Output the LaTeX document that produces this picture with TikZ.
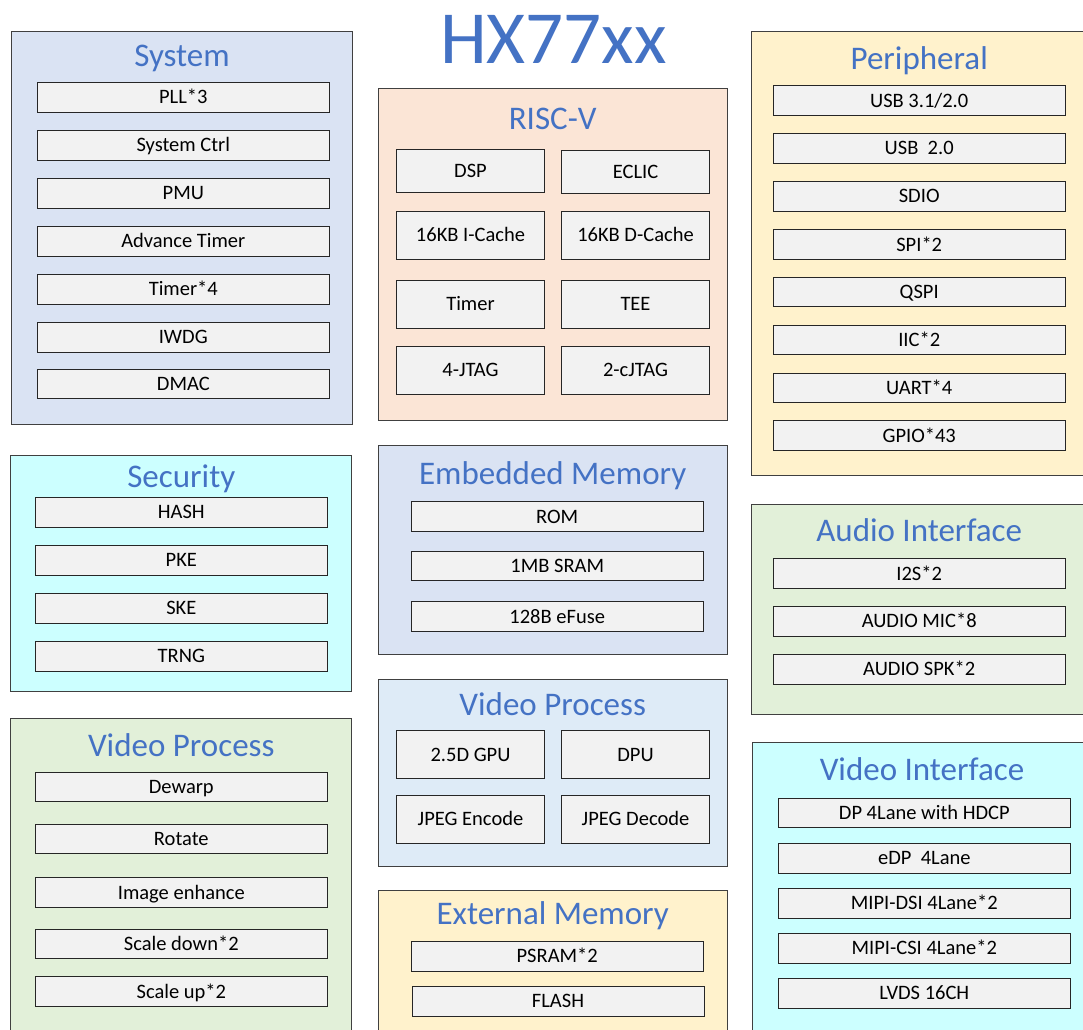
\documentclass[tikz,border=0pt]{standalone}
\usepackage{fontspec}
\setmainfont{Carlito}
\definecolor{titleblue}{HTML}{4472C4}
\definecolor{sysblue}{HTML}{DAE3F3}
\definecolor{seccyan}{HTML}{CCFFFF}
\definecolor{vidgreen}{HTML}{E2F0D9}
\definecolor{riscpeach}{HTML}{FBE5D6}
\definecolor{vidmblue}{HTML}{DEEBF7}
\definecolor{memyellow}{HTML}{FFF2CC}
\definecolor{itemgray}{HTML}{F2F2F2}
\tikzset{
  group/.style={draw=black!75, line width=1pt, inner sep=0pt, anchor=center},
  gtitle/.style={text=titleblue, font=\fontsize{33}{33}\selectfont, anchor=base, inner sep=0pt},
  item/.style={draw=black!85, line width=1pt, fill=itemgray, inner sep=0pt, anchor=center,
    font=\fontsize{20.5}{20.5}\selectfont, text height=13.2pt, text depth=0pt},
  wide/.style={item, minimum width=292pt, minimum height=29.7pt},
  cell/.style={item, minimum width=147.6pt, minimum height=48pt},
}
\begin{document}
\begin{tikzpicture}[x=1pt,y=-1pt]
\useasboundingbox (0,0) rectangle (1083,1029);
\clip (0,0) rectangle (1083,1029);
\fill[white] (0,0) rectangle (1083,1029);

% main title
\node[text=titleblue, font=\fontsize{75}{75}\selectfont, anchor=base, inner sep=0pt] (main) at (553.5,63.3) {HX77xx};

% ---------- left column ----------
\node[group, fill=sysblue, minimum width=340.8pt, minimum height=393.3pt] (system) at (182,228.3) {};
\node[gtitle] (systemT) at (182,66) {System};
\node[wide] (pll) at (183.3,97.2) {PLL*3};
\node[wide] (sysctrl) at (183.3,145.2) {System Ctrl};
\node[wide] (pmu) at (183.3,193.2) {PMU};
\node[wide] (advtimer) at (183.3,241.2) {Advance Timer};
\node[wide] (timer4) at (183.3,289.2) {Timer*4};
\node[wide] (iwdg) at (183.3,337.2) {IWDG};
\node[wide] (dmac) at (183.3,384) {DMAC};

\node[group, fill=seccyan, minimum width=340.7pt, minimum height=236.3pt] (security) at (181.3,573.8) {};
\node[gtitle] (securityT) at (181.3,487.3) {Security};
\node[wide] (hash) at (181.3,512.2) {HASH};
\node[wide] (pke) at (181.3,560.2) {PKE};
\node[wide] (ske) at (181.3,608.2) {SKE};
\node[wide] (trng) at (181.3,656.2) {TRNG};

\node[group, fill=vidgreen, minimum width=340.7pt, minimum height=322pt] (vidl) at (181.3,879) {};
\node[gtitle] (vidlT) at (181.3,756) {Video Process};
\node[wide] (dewarp) at (181.3,787) {Dewarp};
\node[wide] (rotate) at (181.3,839) {Rotate};
\node[wide] (enhance) at (181.3,892.7) {Image enhance};
\node[wide] (scaledown) at (181.3,944) {Scale down*2};
\node[wide] (scaleup) at (181.3,991.5) {Scale up*2};

% ---------- middle column ----------
\node[group, fill=riscpeach, minimum width=348.7pt, minimum height=332.4pt] (riscv) at (552.7,254.5) {};
\node[gtitle] (riscvT) at (552.7,129.3) {RISC-V};
\node[cell, minimum height=43.4pt] (dsp) at (470.5,171) {DSP};
\node[cell, minimum height=42.7pt] (eclic) at (635.5,172.3) {ECLIC};
\node[cell] (icache) at (470.5,235.3) {16KB I-Cache};
\node[cell] (dcache) at (635.5,235.3) {16KB D-Cache};
\node[cell] (rtimer) at (470.5,304) {Timer};
\node[cell] (tee) at (635.5,304) {TEE};
\node[cell] (jtag) at (470.5,370) {4-JTAG};
\node[cell] (cjtag) at (635.5,370) {2-cJTAG};

\node[group, fill=sysblue, minimum width=348.7pt, minimum height=209.3pt] (embmem) at (552.7,549.7) {};
\node[gtitle] (embmemT) at (552.7,484.5) {Embedded Memory};
\node[wide] (rom) at (557.2,516.4) {ROM};
\node[wide] (sram) at (557.2,566) {1MB SRAM};
\node[wide] (efuse) at (557.2,616.4) {128B eFuse};

\node[group, fill=vidmblue, minimum width=348.7pt, minimum height=186.7pt] (vidm) at (552.7,772.7) {};
\node[gtitle] (vidmT) at (552.7,715.7) {Video Process};
\node[cell] (gpu) at (470.5,754.8) {2.5D GPU};
\node[cell] (dpu) at (635.5,754.8) {DPU};
\node[cell] (jpegenc) at (470.5,819.3) {JPEG Encode};
\node[cell] (jpegdec) at (635.5,819.3) {JPEG Decode};

\node[group, fill=memyellow, minimum width=348.7pt, minimum height=154.5pt] (extmem) at (552.7,967.8) {};
\node[gtitle] (extmemT) at (552.7,924.3) {External Memory};
\node[wide] (psram) at (557.2,956.2) {PSRAM*2};
\node[wide] (flash) at (558,1001.2) {FLASH};

% ---------- right column ----------
\node[group, fill=memyellow, minimum width=343.3pt, minimum height=443.3pt] (periph) at (923.4,253.4) {};
\node[gtitle] (periphT) at (919.2,69) {Peripheral};
\node[wide] (usb31) at (919.2,100.6) {USB 3.1/2.0};
\node[wide] (usb20) at (919.2,148.2) {USB\ \ 2.0};
\node[wide] (sdio) at (919.2,196.2) {SDIO};
\node[wide] (spi) at (919.2,244.4) {SPI*2};
\node[wide] (qspi) at (919.2,291.9) {QSPI};
\node[wide] (iic) at (919.2,339.9) {IIC*2};
\node[wide] (uart) at (919.2,387.9) {UART*4};
\node[wide] (gpio) at (919.2,435.6) {GPIO*43};

\node[group, fill=vidgreen, minimum width=343.7pt, minimum height=209.7pt] (audio) at (923.2,609.2) {};
\node[gtitle] (audioT) at (919.2,541.7) {Audio Interface};
\node[wide] (i2s) at (919.2,573.6) {I2S*2};
\node[wide] (mic) at (919.2,621.2) {AUDIO MIC*8};
\node[wide] (spk) at (919.2,669.2) {AUDIO SPK*2};

\node[group, fill=seccyan, minimum width=343pt, minimum height=302.3pt] (vidif) at (923.5,893.9) {};
\node[gtitle] (vidifT) at (922,780) {Video Interface};
\node[wide] (dp) at (924.3,812.9) {DP 4Lane with HDCP};
\node[wide] (edp) at (924.3,858.2) {eDP\ \ 4Lane};
\node[wide] (dsi) at (924.3,903.2) {MIPI-DSI 4Lane*2};
\node[wide] (csi) at (924.3,948.2) {MIPI-CSI 4Lane*2};
\node[wide] (lvds) at (924.3,993.2) {LVDS 16CH};
\end{tikzpicture}
\end{document}
